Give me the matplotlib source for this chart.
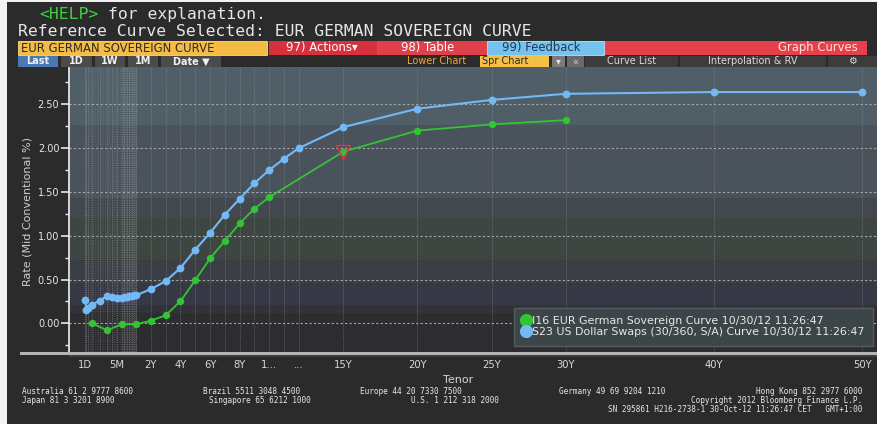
import numpy as np
import matplotlib
matplotlib.use('Agg')
import matplotlib.pyplot as plt
from matplotlib.patches import Rectangle
from matplotlib.lines import Line2D

W, H = 877, 424

# curve data (tenor, mid conventional rate %)
green_tenors = ['1M', '3M', '6M', '1Y', '2Y', '3Y', '4Y', '5Y', '6Y', '7Y',
                '8Y', '9Y', '10Y', '15Y', '20Y', '25Y', '30Y']
green_rates = [0.00, -0.08, -0.01, -0.01, 0.03, 0.09, 0.25, 0.49, 0.74, 0.94,
               1.14, 1.31, 1.44, 1.96, 2.20, 2.27, 2.32]

blue_tenors = ['1D', '1W', '2W', '1M', '2M', '3M', '4M', '5M', '6M', '7M',
               '8M', '9M', '10M', '11M', '1Y', '2Y', '3Y', '4Y', '5Y', '6Y',
               '7Y', '8Y', '9Y', '10Y', '11Y', '12Y', '15Y', '20Y', '25Y',
               '30Y', '40Y', '50Y']
blue_rates = [0.27, 0.15, 0.17, 0.21, 0.26, 0.31, 0.30, 0.29, 0.29, 0.30,
              0.30, 0.31, 0.31, 0.32, 0.32, 0.39, 0.48, 0.63, 0.84, 1.03,
              1.24, 1.42, 1.60, 1.75, 1.88, 2.00, 2.24, 2.45, 2.55,
              2.62, 2.64, 2.64]

green_name = 'I16 EUR German Sovereign Curve 10/30/12 11:26:47'
blue_name = 'S23 US Dollar Swaps (30/360, S/A) Curve 10/30/12 11:26:47'
highlight_tenor = '15Y'

tick_tenors = ['1D', '5M', '2Y', '4Y', '6Y', '8Y', '10Y', '12Y', '15Y',
               '20Y', '25Y', '30Y', '40Y', '50Y']
tick_labels = ['1D', '5M', '2Y', '4Y', '6Y', '8Y', '1...', '...', '15Y',
               '20Y', '25Y', '30Y', '40Y', '50Y']
y_ticks = [0.0, 0.5, 1.0, 1.5, 2.0, 2.5]

# background shading bands of the chart
band_edges = [-0.5, 0.12, 0.21, 0.46, 0.72, 1.20, 1.43, 2.26, 3.0]
band_colors = ['#2d2d2f', '#323338', '#363846', '#3b3f45', '#3e4642',
               '#43484f', '#4a525b', '#4f5e67']


def to_years(t):
    n = float(t[:-1])
    unit = t[-1]
    if unit == 'D':
        return n / 365.0
    if unit == 'W':
        return n * 7 / 365.0
    if unit == 'M':
        return n / 12.0
    return n


# Bloomberg tenor axis: stretched short end, linear beyond 2Y
anchor_years = np.array([-0.06, 0.0, 1 / 365, 1 / 12, 0.25, 0.5, 1.0, 2.0, 50.0, 52.0])
anchor_px = np.array([69, 84, 85, 92, 107, 122, 136.3, 150.7, 862, 891.7])


def fwd(x):
    return np.interp(x, anchor_years, anchor_px)


def inv(p):
    return np.interp(p, anchor_px, anchor_years)


def fx(x):
    return x / W


def fy(y):
    return 1 - y / H


def box(fig, x0, y0, x1, y1, color, ec='none', lw=0, z=0):
    fig.patches.append(Rectangle((fx(x0), fy(y1)), (x1 - x0) / W, (y1 - y0) / H,
                                 transform=fig.transFigure, facecolor=color,
                                 edgecolor=ec, linewidth=lw, zorder=z))


def label(fig, x, y, s, color='#e6e6e6', size=8, ha='left', **kw):
    fig.text(fx(x), fy(y), s, color=color, fontsize=size, ha=ha, va='center', **kw)


def main():
    fig = plt.figure(figsize=(W / 100, H / 100), dpi=100, facecolor='#2b2b2b')
    mono = 'DejaVu Sans Mono'

    # screenshot border
    box(fig, 0, 0, 7, H, '#f2f2f2')
    box(fig, 0, 0, W, 2, '#f2f2f2')

    # header lines
    hsize = 11.8
    cw = hsize / 72 * 100 * 0.602
    label(fig, 39, 14.2, '<HELP>', color='#3fd23f', size=hsize, family=mono)
    label(fig, 39 + 7 * cw, 14.2, 'for explanation.', size=hsize, family=mono)
    label(fig, 18, 31, 'Reference Curve Selected: EUR GERMAN SOVEREIGN CURVE',
          size=hsize, family=mono)

    # function row
    box(fig, 18, 41, 267, 55, '#f4bb45', ec='#ffd98a', lw=0.6)
    label(fig, 21, 48, 'EUR GERMAN SOVEREIGN CURVE', color='#2a2a2a', size=8.4)
    box(fig, 269, 41, 867, 55, '#e6404b')
    box(fig, 269, 41, 377, 55, '#d8303c')
    box(fig, 379, 41, 485, 55, '#e0404a')
    box(fig, 487, 41, 604, 55, '#74c3ef', ec='#b6e3fb', lw=0.6)
    label(fig, 286, 48, '97) Actions\u25be', color='#ffffff', size=8.4)
    label(fig, 401, 48, '98) Table', color='#ffffff', size=8.4)
    label(fig, 502, 48, '99) Feedback', color='#2a3550', size=8.4)
    label(fig, 858, 48, 'Graph Curves', color='#ffe0e0', size=8.4, ha='right')

    # toolbar row
    for x0, x1, s, c in [(18, 58, 'Last', '#4a78b4'), (61, 92, '1D', '#4b4b4b'),
                         (95, 125, '1W', '#4b4b4b'), (128, 158, '1M', '#4b4b4b'),
                         (161, 221, 'Date \u25bc', '#4b4b4b')]:
        box(fig, x0, 56, x1, 67, c)
        label(fig, (x0 + x1) / 2, 61.5, s, color='#f0f0f0', size=7,
              ha='center', weight='bold')
    label(fig, 407, 61.5, 'Lower Chart', color='#f0a828', size=7)
    box(fig, 480, 56, 549, 67, '#f4c046')
    label(fig, 482, 61.5, 'Spr Chart', color='#2a2a2a', size=7)
    box(fig, 552, 56, 565, 67, '#7a7a7a')
    label(fig, 558.5, 61.5, '\u25be', color='#e0e0e0', size=7, ha='center')
    box(fig, 567, 56, 584, 67, '#6a6a6a')
    label(fig, 575.5, 61.5, '\u00ab', color='#d0d0d0', size=7, ha='center')
    for x0, x1, s in [(585, 678, 'Curve List'), (680, 826, 'Interpolation & RV'),
                      (828, 877, '\u2699')]:
        box(fig, x0, 56, x1, 67, '#3c3c3c')
        label(fig, (x0 + x1) / 2, 61.5, s, color='#d8d8d8', size=7, ha='center')

    # chart
    ax = fig.add_axes([fx(69), fy(353), (877 - 69) / W, (353 - 67) / H])
    ax.set_xscale('function', functions=(fwd, inv))
    ax.set_xlim(inv(69), inv(877))
    ax.set_ylim(-0.339, 2.926)

    for lo, hi, c in zip(band_edges[:-1], band_edges[1:], band_colors):
        ax.axhspan(lo, hi, color=c, lw=0, zorder=0)

    week_tenors = ['1D'] + [f'{w}W' for w in range(1, 53)]
    for t in week_tenors:
        ax.axvline(to_years(t), color='#9aa0a4', lw=0.5, ls=(0, (1, 1.5)),
                   alpha=0.3, zorder=1)
    for t in sorted(set(green_tenors + blue_tenors), key=to_years):
        ax.axvline(to_years(t), color='#9aa0a4', lw=0.6, ls=(0, (1, 1.5)),
                   alpha=0.6, zorder=1)
    for v in y_ticks:
        ax.axhline(v, color='#a8a8a8', lw=0.8, ls=(0, (2, 2)), zorder=1)

    gx = [to_years(t) for t in green_tenors]
    bx = [to_years(t) for t in blue_tenors]
    ax.plot(bx, blue_rates, color='#72b9f6', lw=1.5, marker='o', ms=4.6,
            zorder=3)
    ax.plot(gx, green_rates, color='#33c433', lw=1.3, marker='o', ms=4.3,
            zorder=4)
    hi_idx = green_tenors.index(highlight_tenor)
    ax.plot(gx[hi_idx], green_rates[hi_idx], marker='v', ms=10.5,
            mfc='none', mec='#e8323a', mew=1.0, zorder=5)

    ax.set_xticks([to_years(t) for t in tick_tenors])
    ax.set_xticklabels(tick_labels)
    ax.set_xticks([], minor=True)
    ax.set_yticks(y_ticks)
    ax.set_yticklabels([f'{v:.2f}' for v in y_ticks])
    ax.set_yticks(np.arange(-0.25, 2.9, 0.25), minor=True)
    ax.tick_params(axis='x', length=0, pad=5, labelsize=7.2, colors='#d8d8d8')
    ax.tick_params(axis='y', which='major', length=6, width=1.2, pad=1,
                   labelsize=7, colors='#e8e8e8')
    ax.tick_params(axis='y', which='minor', length=3, width=1, colors='#e8e8e8')
    for s in ['top', 'right', 'bottom']:
        ax.spines[s].set_visible(False)
    ax.spines['left'].set_color('#f0f0f0')
    ax.spines['left'].set_linewidth(1.2)

    # scroll bar under the plot
    box(fig, 20, 351.5, 877, 354.5, '#b4b4b4', z=5)
    box(fig, 69, 354.5, 877, 357, '#3a3d42', z=5)

    handles = [Line2D([], [], ls='none', marker='o', ms=8.5, color='#33c433'),
               Line2D([], [], ls='none', marker='o', ms=8.5, color='#72b9f6')]
    leg = ax.legend(handles, [green_name, blue_name], loc='upper right',
                    bbox_to_anchor=(fx(873), fy(308)), bbox_transform=fig.transFigure,
                    borderaxespad=0, fontsize=7.9, handlelength=0.8,
                    handletextpad=0.15, labelspacing=0.1, borderpad=0.75,
                    facecolor='#3c4547', edgecolor='#535c5e', framealpha=1,
                    fancybox=False)
    for txt in leg.get_texts():
        txt.set_color('#e8e8e8')

    label(fig, 28, 211, 'Rate (Mid Conventional %)', color='#cfcfcf', size=8,
          ha='center', rotation=90)
    label(fig, 458, 380, 'Tenor', color='#d8d8d8', size=8, ha='center')

    # footer
    foot = dict(color='#e8e8e8', size=5.6, family=mono)
    label(fig, 22, 392, 'Australia 61 2 9777 8600', **foot)
    label(fig, 203, 392, 'Brazil 5511 3048 4500', **foot)
    label(fig, 360, 392, 'Europe 44 20 7330 7500', **foot)
    label(fig, 559, 392, 'Germany 49 69 9204 1210', **foot)
    label(fig, 862, 392, 'Hong Kong 852 2977 6000', ha='right', **foot)
    label(fig, 22, 400.5, 'Japan 81 3 3201 8900', **foot)
    label(fig, 209, 400.5, 'Singapore 65 6212 1000', **foot)
    label(fig, 411, 400.5, 'U.S. 1 212 318 2000', **foot)
    label(fig, 862, 400.5, 'Copyright 2012 Bloomberg Finance L.P.', ha='right', **foot)
    label(fig, 862, 409, 'SN 295861 H216-2738-1 30-Oct-12 11:26:47 CET   GMT+1:00',
          ha='right', **foot)

    fig.savefig('out.png', dpi=100, facecolor=fig.get_facecolor())


if __name__ == '__main__':
    main()
